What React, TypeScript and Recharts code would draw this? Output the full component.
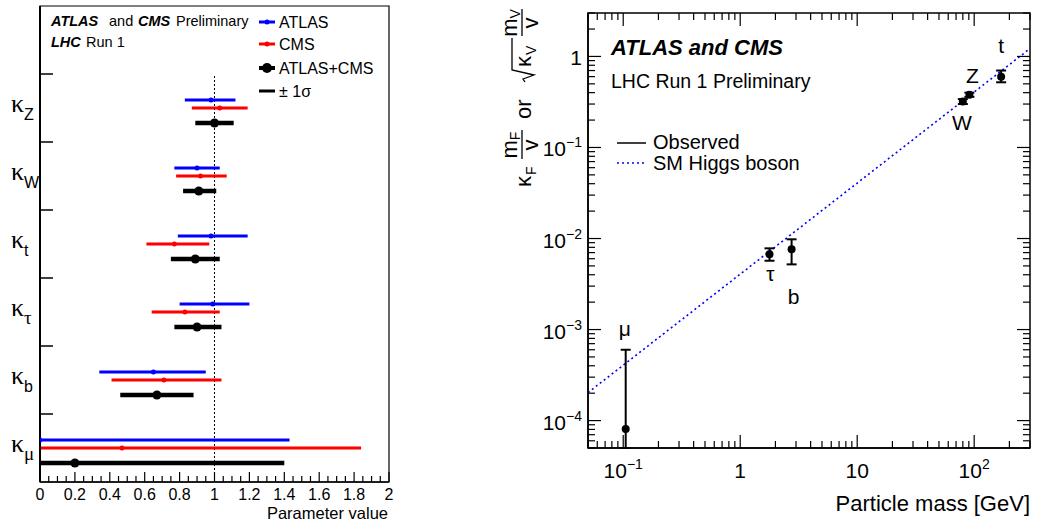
import React from 'react';
import {
  ScatterChart,
  Scatter,
  XAxis,
  YAxis,
  ErrorBar,
  ReferenceLine,
  ReferenceArea,
} from 'recharts';

const SANS = '"Liberation Sans", Arial, Helvetica, sans-serif';
const SERIF = '"Liberation Serif", "Times New Roman", serif';
const BLUE = '#0000ff';
const RED = '#ff0000';

// ---- coupling modifiers (left panel), listed top to bottom ----
const couplingSubs = ['Z', 'W', 't', 'τ', 'b', 'μ'];

// [best fit, lower 1σ edge, upper 1σ edge]
const atlasKappa = [
  [0.98, 0.83, 1.12],
  [0.9, 0.77, 1.03],
  [0.98, 0.79, 1.19],
  [0.99, 0.8, 1.2],
  [0.65, 0.34, 0.95],
  [0.0, 0.0, 1.43],
];
const cmsKappa = [
  [1.03, 0.87, 1.19],
  [0.92, 0.78, 1.07],
  [0.77, 0.61, 0.97],
  [0.83, 0.64, 1.03],
  [0.71, 0.41, 1.04],
  [0.47, 0.0, 1.84],
];
const combinedKappa = [
  [1.0, 0.89, 1.11],
  [0.91, 0.82, 1.01],
  [0.89, 0.75, 1.03],
  [0.9, 0.77, 1.04],
  [0.67, 0.46, 0.88],
  [0.2, 0.0, 1.4],
];

const paramLabels = [0, 0.2, 0.4, 0.6, 0.8, 1, 1.2, 1.4, 1.6, 1.8, 2];

// ---- reduced couplings vs particle mass (right panel) ----
const particleNames = ['μ', 'τ', 'b', 'W', 'Z', 't'];
const particleMass = [0.105, 1.78, 2.75, 80, 91, 170];
const reducedCoupling = [8.1e-5, 6.7e-3, 7.6e-3, 0.32, 0.38, 0.6];
const couplingLow = [0, 5.7e-3, 5.2e-3, 0.3, 0.36, 0.52];
const couplingHigh = [6.0e-4, 7.8e-3, 9.8e-3, 0.34, 0.4, 0.7];

// SM expectation m/v, end points across the mass range
const smMass = [0.05, 300];
const smCoupling = [2.03e-4, 1.22];

const massDomain = [0.05, 300];
const couplingDomain = [5e-5, 3];

// ---- layout helpers ----
const bandY = (i: number) => couplingSubs.length - 0.5 - i;
const toRows = (vals: number[][], shift: number) =>
  vals.map(([v, lo, hi], i) => ({ x: v, y: bandY(i) + shift, err: [v - lo, hi - v] }));

const atlasRows = toRows(atlasKappa, 0.118);
const cmsRows = toRows(cmsKappa, 0);
const combinedRows = toRows(combinedKappa, -0.22);

const paramTicks = Array.from({ length: 41 }, (_, i) => Math.round(i * 5) / 100);
const bandTicks = Array.from({ length: 12 }, (_, i) => (i + 1) / 2);

const decadeTicks = (lo: number, hi: number) => {
  const out: number[] = [];
  for (let e = Math.floor(Math.log10(lo)); e <= Math.ceil(Math.log10(hi)); e++) {
    for (let m = 1; m <= 9; m++) {
      const v = m * Math.pow(10, e);
      if (v >= lo * (1 - 1e-9) && v <= hi * (1 + 1e-9)) out.push(v);
    }
  }
  return out;
};
const massTicks = decadeTicks(massDomain[0], massDomain[1]);
const couplingTicks = decadeTicks(couplingDomain[0], couplingDomain[1]);

const particleRows = particleNames.map((name, i) => {
  const v = reducedCoupling[i];
  const lo = Math.max(couplingLow[i], couplingDomain[0]);
  return { name, x: particleMass[i], y: v, err: [v - lo, couplingHigh[i] - v] };
});

const labelShift: Record<string, [number, number]> = {
  μ: [-1, -100],
  τ: [1, 19],
  b: [2, 47],
  W: [-1, 21],
  Z: [3, -19],
  t: [0, -31],
};

const PLOT_W = 442;
const PLOT_H = 435;

const isDecade = (v: number) => Math.abs(Math.log10(v) - Math.round(Math.log10(v))) < 1e-6;

function powerLabel(v: number) {
  const e = Math.round(Math.log10(v));
  if (e === 0) return '1';
  if (e === 1) return '10';
  return (
    <>
      10
      <tspan dy={-9} fontSize={14}>
        {e < 0 ? `−${-e}` : String(e)}
      </tspan>
    </>
  );
}

// ---- tick renderers ----
function ParamTick(props: any) {
  const { x, y, payload } = props;
  const v: number = payload.value;
  const major = paramLabels.includes(v);
  return (
    <g>
      <line x1={x} x2={x} y1={y} y2={y - (major ? 10 : 6)} stroke="#000" strokeWidth={1.2} />
      {major && (
        <text x={x} y={y + 18} textAnchor="middle" fontFamily={SANS} fontSize={16} fill="#000">
          {String(v)}
        </text>
      )}
    </g>
  );
}

function KappaTick(props: any) {
  const { x, y, payload } = props;
  const v: number = payload.value;
  if (Number.isInteger(v)) {
    return <line x1={x} x2={x + 13} y1={y} y2={y} stroke="#000" strokeWidth={1.5} />;
  }
  const sub = couplingSubs[Math.round(couplingSubs.length - 0.5 - v)];
  const greek = /[α-ω]/.test(sub);
  return (
    <text x={x - 29} y={y + 4} fontFamily={SERIF} fontSize={26} fill="#000">
      κ
      <tspan fontFamily={greek ? SERIF : SANS} fontSize={greek ? 19 : 16} dy={8}>
        {sub}
      </tspan>
    </text>
  );
}

function MassTick(props: any) {
  const { x, y, payload } = props;
  const v: number = payload.value;
  const major = isDecade(v);
  const len = major ? 13 : 7;
  return (
    <g>
      <line x1={x} x2={x} y1={y} y2={y - len} stroke="#000" strokeWidth={1.2} />
      <line x1={x} x2={x} y1={y - PLOT_H} y2={y - PLOT_H + len} stroke="#000" strokeWidth={1.2} />
      {major && (
        <text x={x} y={y + 30} textAnchor="middle" fontFamily={SANS} fontSize={21} fill="#000">
          {powerLabel(v)}
        </text>
      )}
    </g>
  );
}

function CouplingTick(props: any) {
  const { x, y, payload } = props;
  const v: number = payload.value;
  const major = isDecade(v);
  const len = major ? 13 : 7;
  return (
    <g>
      <line x1={x} x2={x + len} y1={y} y2={y} stroke="#000" strokeWidth={1.2} />
      <line x1={x + PLOT_W - len} x2={x + PLOT_W} y1={y} y2={y} stroke="#000" strokeWidth={1.2} />
      {major && (
        <text x={x - 6} y={y + 9} textAnchor="end" fontFamily={SANS} fontSize={21} fill="#000">
          {powerLabel(v)}
        </text>
      )}
    </g>
  );
}

const dot = (r: number, fill: string) => (p: any) => <circle cx={p.cx} cy={p.cy} r={r} fill={fill} />;

function ParticlePoint(p: any) {
  const name: string = p.payload.name;
  const [dx, dy] = labelShift[name] ?? [0, 0];
  return (
    <g>
      <circle cx={p.cx} cy={p.cy} r={4} fill="#000" />
      <text
        x={p.cx + dx}
        y={p.cy + dy}
        textAnchor="middle"
        dominantBaseline="central"
        fontFamily={SANS}
        fontSize={21}
        fill="#000"
      >
        {name}
      </text>
    </g>
  );
}

function KappaPanel() {
  return (
    <ScatterChart width={400} height={527} margin={{ top: 6, right: 11, bottom: 0, left: 0 }}>
      <XAxis
        type="number"
        dataKey="x"
        domain={[0, 2]}
        ticks={paramTicks}
        interval={0}
        allowDataOverflow
        tickLine={false}
        tickSize={0}
        tickMargin={0}
        height={45}
        axisLine={{ stroke: '#000', strokeWidth: 1.5 }}
        tick={(p: any) => <ParamTick {...p} />}
      />
      <YAxis
        type="number"
        dataKey="y"
        domain={[0, 7]}
        ticks={bandTicks}
        interval={0}
        allowDataOverflow
        tickLine={false}
        tickSize={0}
        tickMargin={0}
        width={40}
        axisLine={{ stroke: '#000', strokeWidth: 2 }}
        tick={(p: any) => <KappaTick {...p} />}
      />
      <ReferenceArea x1={0} x2={2} y1={0} y2={7} fill="none" stroke="#000" strokeWidth={1.2} />
      <ReferenceLine
        segment={[
          { x: 1, y: 0 },
          { x: 1, y: 6 },
        ]}
        stroke="#000"
        strokeWidth={1}
        strokeDasharray="2 2"
      />
      <Scatter data={atlasRows} shape={dot(2.5, BLUE)} isAnimationActive={false}>
        <ErrorBar dataKey="err" direction="x" width={0} stroke={BLUE} strokeWidth={3} isAnimationActive={false} />
      </Scatter>
      <Scatter data={cmsRows} shape={dot(2.5, RED)} isAnimationActive={false}>
        <ErrorBar dataKey="err" direction="x" width={0} stroke={RED} strokeWidth={3} isAnimationActive={false} />
      </Scatter>
      <Scatter data={combinedRows} shape={dot(4.5, '#000')} isAnimationActive={false}>
        <ErrorBar dataKey="err" direction="x" width={0} stroke="#000" strokeWidth={4.5} isAnimationActive={false} />
      </Scatter>

      <g fontFamily={SANS} fill="#000">
        <text y={26} fontSize={14.5}>
          <tspan x={51} fontWeight="bold" fontStyle="italic">ATLAS</tspan>
          <tspan x={109}>and</tspan>
          <tspan x={138} fontWeight="bold" fontStyle="italic">CMS</tspan>
          <tspan x={176}>Preliminary</tspan>
        </text>
        <text y={47} fontSize={14.5}>
          <tspan x={51} fontWeight="bold" fontStyle="italic">LHC</tspan>
          <tspan x={86}>Run 1</tspan>
        </text>

        <line x1={259} x2={275} y1={22} y2={22} stroke={BLUE} strokeWidth={3} />
        <circle cx={267} cy={22} r={2.5} fill={BLUE} />
        <text x={279} y={27.5} fontSize={16}>ATLAS</text>

        <line x1={259} x2={275} y1={44} y2={44} stroke={RED} strokeWidth={3} />
        <circle cx={267} cy={44} r={2.5} fill={RED} />
        <text x={279} y={49.5} fontSize={16}>CMS</text>

        <line x1={259} x2={275} y1={68} y2={68} stroke="#000" strokeWidth={4} />
        <circle cx={267} cy={68} r={5} fill="#000" />
        <text x={279} y={74} fontSize={16}>ATLAS+CMS</text>

        <line x1={259} x2={275} y1={91} y2={91} stroke="#000" strokeWidth={3} />
        <text x={279} y={97} fontSize={16}>± 1σ</text>

        <text x={388} y={519} textAnchor="end" fontSize={16.5}>Parameter value</text>
      </g>
    </ScatterChart>
  );
}

function CouplingTitle() {
  // rotated axis title: κF mF/v  or  √κV mV/v
  return (
    <g transform="translate(61,187) rotate(-90)" fontFamily={SANS} fill="#000">
      <text x={0} y={0} fontSize={22}>κ</text>
      <text x={12} y={5} fontSize={14}>F</text>

      <text x={42} y={-14} fontSize={22} textAnchor="middle">
        m<tspan fontSize={14} dy={3}>F</tspan>
      </text>
      <line x1={28} x2={57} y1={-9} y2={-9} stroke="#000" strokeWidth={1.3} />
      <text x={42} y={7} fontSize={22} textAnchor="middle">v</text>

      <text x={68} y={0} fontSize={22}>or</text>

      <path d="M105,-6 L108,-8 L112,3 L117,-19 L149,-19" fill="none" stroke="#000" strokeWidth={1.3} />
      <text x={120} y={0} fontSize={22}>κ</text>
      <text x={132} y={5} fontSize={14}>V</text>

      <text x={164} y={-14} fontSize={22} textAnchor="middle">
        m<tspan fontSize={14} dy={3}>V</tspan>
      </text>
      <line x1={151} x2={178} y1={-9} y2={-9} stroke="#000" strokeWidth={1.3} />
      <text x={164} y={7} fontSize={22} textAnchor="middle">v</text>
    </g>
  );
}

function MassPanel() {
  return (
    <ScatterChart width={572} height={527} margin={{ top: 13, right: 12, bottom: 0, left: 0 }}>
      <XAxis
        type="number"
        scale="log"
        dataKey="x"
        domain={massDomain}
        ticks={massTicks}
        interval={0}
        allowDataOverflow
        tickLine={false}
        tickSize={0}
        tickMargin={0}
        height={79}
        axisLine={{ stroke: '#000', strokeWidth: 1.5 }}
        tick={(p: any) => <MassTick {...p} />}
      />
      <YAxis
        type="number"
        scale="log"
        dataKey="y"
        domain={couplingDomain}
        ticks={couplingTicks}
        interval={0}
        allowDataOverflow
        tickLine={false}
        tickSize={0}
        tickMargin={0}
        width={118}
        axisLine={{ stroke: '#000', strokeWidth: 1.5 }}
        tick={(p: any) => <CouplingTick {...p} />}
      />
      <ReferenceArea
        x1={massDomain[0]}
        x2={massDomain[1]}
        y1={couplingDomain[0]}
        y2={couplingDomain[1]}
        fill="none"
        stroke="#000"
        strokeWidth={1.5}
      />
      <ReferenceLine
        segment={[
          { x: smMass[0], y: smCoupling[0] },
          { x: smMass[1], y: smCoupling[1] },
        ]}
        stroke={BLUE}
        strokeWidth={1.6}
        strokeDasharray="2 3"
      />
      <Scatter data={particleRows} shape={(p: any) => <ParticlePoint {...p} />} isAnimationActive={false}>
        <ErrorBar dataKey="err" direction="y" width={5} stroke="#000" strokeWidth={2} isAnimationActive={false} />
      </Scatter>

      <CouplingTitle />
      <g fontFamily={SANS} fill="#000">
        <text x={141} y={55} fontSize={22} fontWeight="bold" fontStyle="italic">ATLAS and CMS</text>
        <text x={141} y={88} fontSize={19.5}>LHC Run 1 Preliminary</text>

        <line x1={147} x2={176} y1={143} y2={143} stroke="#000" strokeWidth={1.5} />
        <text x={183} y={149} fontSize={20}>Observed</text>
        <line x1={147} x2={176} y1={163} y2={163} stroke={BLUE} strokeWidth={1.6} strokeDasharray="2 3" />
        <text x={183} y={170} fontSize={20}>SM Higgs boson</text>

        <text x={560} y={511} textAnchor="end" fontSize={22}>Particle mass [GeV]</text>
      </g>
    </ScatterChart>
  );
}

export default function App() {
  return (
    <div
      style={{
        position: 'absolute',
        left: 0,
        top: 0,
        width: 1042,
        height: 527,
        background: '#fff',
        overflow: 'hidden',
      }}
    >
      <div style={{ position: 'absolute', left: 0, top: 0 }}>
        <KappaPanel />
      </div>
      <div style={{ position: 'absolute', left: 470, top: 0 }}>
        <MassPanel />
      </div>
    </div>
  );
}
